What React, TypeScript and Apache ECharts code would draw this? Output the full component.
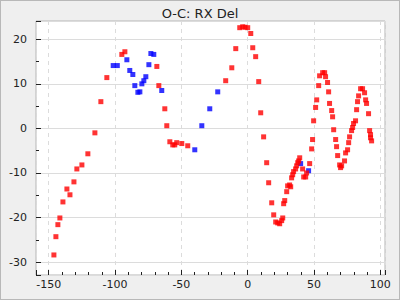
import React, { useEffect, useRef } from "react";
import * as echarts from "echarts";

const TITLE = "O-C: RX Del";

const redX = [
  -146.1, -144.6, -143.1, -141.6, -139.3, -136.3, -134.0, -131.0, -128.8, -125.0,
  -120.5, -115.2, -110.7, -106.2, -94.9, -92.6, -68.5, -67.0, -62.5, -61.0,
  -58.7, -56.5, -55.0, -53.5, -49.7, -45.2, -16.6, -12.0, -9.0, -6.0,
  -3.8, -2.0, 0.0, 2.3, 3.8, 6.0, 8.3, 9.8, 12.0, 14.3,
  15.8, 18.1, 19.6, 21.1, 22.6, 24.1, 25.6, 26.4, 27.1, 27.9,
  29.4, 30.1, 31.6, 32.4, 33.1, 33.9, 34.6, 36.1, 36.9, 37.7,
  38.4, 39.2, 41.4, 42.2, 43.7, 44.4, 46.7, 48.2, 48.9, 49.7,
  51.2, 52.0, 53.5, 54.2, 56.5, 58.0, 58.7, 60.2, 61.0, 61.7,
  63.3, 64.0, 64.8, 66.3, 67.0, 67.8, 69.3, 70.0, 70.8, 73.0,
  73.8, 75.3, 76.1, 76.8, 78.3, 79.1, 79.8, 81.3, 82.1, 82.8,
  83.6, 85.1, 86.6, 88.1, 88.9, 89.6, 91.1, 91.9, 92.6, 92.6,
  93.4,
];
const redY = [
  -28.4, -24.3, -21.6, -20.1, -16.5, -13.6, -14.9, -12.0, -9.1, -8.2,
  -5.7, -1.0, 6.0, 11.4, 16.6, 17.2, 13.9, 9.6, 4.4, 0.6,
  -3.0, -3.7, -3.7, -3.2, -3.4, -3.9, 10.7, 13.6, 17.9, 22.6,
  22.8, 22.7, 22.6, 21.3, 18.1, 16.1, 10.5, 3.5, -1.9, -7.7,
  -12.2, -16.7, -19.4, -21.0, -21.2, -21.4, -20.7, -20.1, -16.9, -16.2,
  -14.2, -12.9, -12.7, -13.1, -11.1, -10.4, -9.7, -9.1, -8.4, -7.7,
  -7.3, -6.6, -9.1, -10.9, -10.9, -10.0, -7.9, -4.6, -2.5, 1.7,
  4.7, 6.4, 9.6, 11.8, 12.5, 12.5, 11.6, 10.3, 8.2, 5.6,
  4.0, 2.6, -0.3, -2.5, -4.1, -6.1, -8.2, -8.8, -8.4, -7.3,
  -5.5, -4.8, -3.2, -1.9, -0.5, 0.2, 1.1, 1.7, 4.2, 6.0,
  7.3, 8.9, 8.9, 8.0, 6.4, 5.6, 3.3, -0.5, -1.4, -2.1,
  -2.8,
];

const blueX = [
  -101.4, -98.3, -91.1, -88.9, -86.6, -85.1, -82.8, -81.3, -79.8, -78.3,
  -76.8, -74.5, -73.0, -70.8, -64.8, -39.9, -34.6, -28.6, -22.6, 39.9,
  45.9,
];
const blueY = [
  14.1, 14.1, 15.4, 13.0, 12.1, 9.6, 8.1, 8.2, 10.0, 10.7,
  11.6, 14.3, 16.8, 16.6, 8.5, -4.8, 0.6, 4.4, 8.2, -7.9,
  -9.5,
];

const X_MIN = -159.6;
const X_MAX = 103.5;
const Y_MIN = -32.9;
const Y_MAX = 24.1;

const FONT = "DejaVu Sans";

export default function App() {
  const ref = useRef<HTMLDivElement>(null);
  useEffect(() => {
    document.body.style.margin = "0";
    if (!ref.current) return;
    const chart = echarts.init(ref.current, undefined, { renderer: "svg" });
    const red = redX.map((x, i) => [x, redY[i]]);
    const blue = blueX.map((x, i) => [x, blueY[i]]);
    const axisCommon = {
      axisLine: { show: false, onZero: false },
      axisTick: { show: true, inside: true, length: 5, lineStyle: { color: "#222" } },
      minorTick: { show: true, length: 3, lineStyle: { color: "#222" } },
      axisLabel: {
        color: "#222",
        fontFamily: FONT,
        fontSize: 11,
        showMinLabel: false,
        showMaxLabel: false,
      },
    };
    chart.setOption({
      animation: false,
      backgroundColor: "#efefef",
      title: {
        text: TITLE,
        left: "center",
        top: 1,
        textStyle: { fontFamily: FONT, fontSize: 13, fontWeight: "normal", color: "#222" },
      },
      grid: {
        left: 35,
        right: 14,
        top: 20,
        bottom: 24,
        show: true,
        backgroundColor: "#ffffff",
        borderColor: "#b4b4b4",
        borderWidth: 1,
      },
      xAxis: {
        type: "value",
        min: X_MIN,
        max: X_MAX,
        ...axisCommon,
        minorTick: { ...axisCommon.minorTick, splitNumber: 5 },
        axisLabel: { ...axisCommon.axisLabel, margin: 4 },
        splitLine: { show: true, lineStyle: { color: "#dcdcdc", type: [4, 4], width: 1 } },
      },
      yAxis: {
        type: "value",
        min: Y_MIN,
        max: Y_MAX,
        ...axisCommon,
        minorTick: { ...axisCommon.minorTick, splitNumber: 2 },
        axisLabel: { ...axisCommon.axisLabel, margin: 9 },
        splitLine: { show: true, lineStyle: { color: "#dcdcdc", type: "solid", width: 1 } },
      },
      series: [
        {
          type: "scatter",
          data: blue,
          symbol: "rect",
          symbolSize: 5,
          itemStyle: { color: "#0000ff" },
        },
        {
          type: "scatter",
          data: red,
          symbol: "rect",
          symbolSize: 5,
          itemStyle: { color: "#ff0000" },
        },
      ],
    });
    return () => chart.dispose();
  }, []);
  return (
    <div
      style={{
        width: 400,
        height: 300,
        boxSizing: "border-box",
        border: "1px solid #b8b8b8",
        background: "#efefef",
      }}
    >
      <div ref={ref} style={{ width: 398, height: 298 }} />
    </div>
  );
}
